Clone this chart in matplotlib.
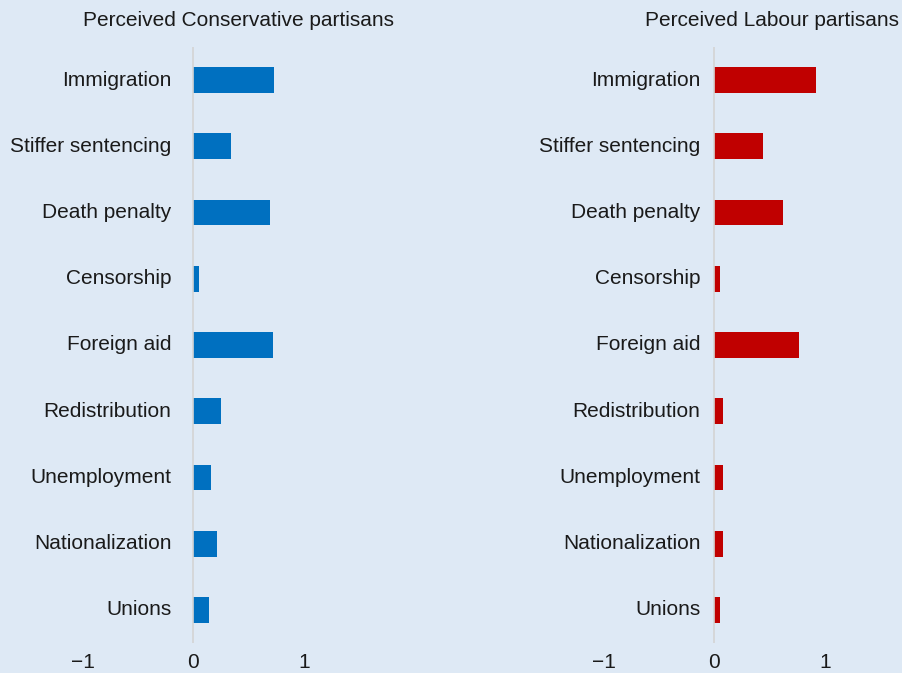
import matplotlib
matplotlib.use("Agg")
import matplotlib.pyplot as plt

plt.rcParams['font.family'] = ['Liberation Sans', 'DejaVu Sans']

categories = ["Immigration", "Stiffer sentencing", "Death penalty", "Censorship",
              "Foreign aid", "Redistribution", "Unemployment", "Nationalization", "Unions"]
conservative = [0.73, 0.34, 0.69, 0.05, 0.72, 0.25, 0.16, 0.21, 0.14]
labour = [0.91, 0.44, 0.62, 0.05, 0.76, 0.08, 0.08, 0.08, 0.05]
titles = ["Perceived Conservative partisans", "Perceived Labour partisans"]
xticks = [-1, 0, 1]
xticklabels = ["\u22121", "0", "1"]

BG = "#dee9f5"
W, H = 903, 673
fig = plt.figure(figsize=(W / 100, H / 100), dpi=100, facecolor=BG)

panels = [
    dict(vals=conservative, color="#0070c0", zero=193.5, unit=110.5, xlim=(-1.5, 1.9), tcx=239, off=-22),
    dict(vals=labour, color="#c00000", zero=714.5, unit=111.0, xlim=(-1.5, 1.65), tcx=772, off=-14),
]

top_px, bot_px = 47, 643
for p, title in zip(panels, titles):
    lpx = p["zero"] + p["xlim"][0] * p["unit"]
    rpx = p["zero"] + p["xlim"][1] * p["unit"]
    ax = fig.add_axes([lpx / W, 1 - bot_px / H, (rpx - lpx) / W, (bot_px - top_px) / H])
    ax.set_facecolor(BG)
    ypos = list(range(len(categories)))
    ax.barh(ypos, p["vals"], height=0.39, color=p["color"], zorder=2)
    ax.axvline(0, color="#d4d4d4", lw=1.2, zorder=3)
    ax.set_xlim(*p["xlim"])
    ax.set_ylim(len(categories) - 0.5, -0.5)
    ax.set_yticks([])
    ax.set_xticks(xticks)
    ax.set_xticklabels(xticklabels, fontsize=15, color="#1a1a1a")
    ax.tick_params(axis="x", length=0, pad=7)
    for s in ax.spines.values():
        s.set_visible(False)
    for i, c in enumerate(categories):
        ax.annotate(c, xy=(0, i), xytext=(p["off"], 0), textcoords="offset pixels",
                    ha="right", va="center", fontsize=15, color="#1a1a1a")
    fig.text(p["tcx"] / W, 1 - 20 / H, title, ha="center", va="center",
             fontsize=15, color="#1a1a1a")

fig.savefig("out.png", dpi=100, facecolor=BG)
